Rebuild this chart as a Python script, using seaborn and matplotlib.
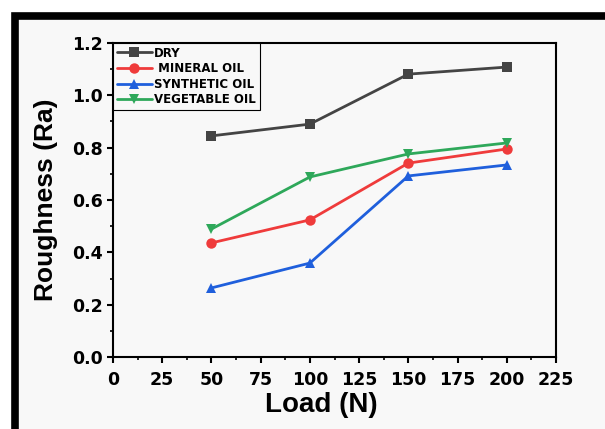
import numpy as np
import pandas as pd
import seaborn as sns
import matplotlib
matplotlib.use("Agg")
import matplotlib.pyplot as plt
from matplotlib.patches import Rectangle
from matplotlib.ticker import MultipleLocator

loads = [50, 100, 150, 200]
dry = [0.845, 0.890, 1.081, 1.108]
mineral = [0.436, 0.524, 0.741, 0.795]
synthetic = [0.264, 0.359, 0.692, 0.734]
vegetable = [0.489, 0.688, 0.776, 0.818]
series_names = ["DRY", " MINERAL OIL", "SYNTHETIC OIL", "VEGETABLE OIL"]
x_ticks = [0, 25, 50, 75, 100, 125, 150, 175, 200, 225]
y_ticks = [0.0, 0.2, 0.4, 0.6, 0.8, 1.0, 1.2]

df = pd.DataFrame({
    "Load": loads * 4,
    "Ra": dry + mineral + synthetic + vegetable,
    "Series": sum([[n] * len(loads) for n in series_names], []),
})

sns.set_theme(style="ticks")
plt.rcParams["font.family"] = ["Liberation Sans", "DejaVu Sans"]
plt.rcParams["font.weight"] = "bold"
for k in ["text.color", "axes.labelcolor", "xtick.color", "ytick.color",
          "xtick.labelcolor", "ytick.labelcolor", "axes.edgecolor"]:
    plt.rcParams[k] = "black"

fig = plt.figure(figsize=(6.05, 4.29), dpi=100)
fig.patch.set_facecolor("white")

# background axes holding the thick black frame (top/left visible)
bg = fig.add_axes([0, 0, 1, 1], zorder=-5)
bg.set_axis_off()
bg.set_xlim(0, 1)
bg.set_ylim(0, 1)
bg.add_patch(Rectangle((15 / 605, -0.1), 1.2, 1 - 16 / 429 + 0.1,
                       facecolor="#f8f8f8", edgecolor="black", linewidth=5.5))

ax = fig.add_axes([113 / 605, 1 - 357 / 429, (556 - 113) / 605, (357 - 43) / 429])
ax.set_facecolor("#f8f8f8")

palette = {"DRY": "#444444", " MINERAL OIL": "#ef3b3b",
           "SYNTHETIC OIL": "#1f5fdc", "VEGETABLE OIL": "#2ea85a"}
markers = {"DRY": "s", " MINERAL OIL": "o", "SYNTHETIC OIL": "^", "VEGETABLE OIL": "v"}

sns.lineplot(data=df, x="Load", y="Ra", hue="Series", style="Series",
             palette=palette, markers=markers, dashes=False,
             linewidth=2, markersize=7.5, markeredgewidth=0, ax=ax)

ax.set_xlim(0, 225)
ax.set_ylim(0, 1.2)
ax.set_xticks(x_ticks)
ax.set_yticks(y_ticks)
ax.set_yticklabels([f"{v:.1f}" for v in y_ticks])
ax.xaxis.set_minor_locator(MultipleLocator(12.5))
ax.yaxis.set_minor_locator(MultipleLocator(0.1))
ax.tick_params(axis="both", which="major", direction="out", length=4.5, width=1.5,
               labelsize=12.5, top=False, right=False, color="black",
               labelcolor="black")
ax.tick_params(axis="x", which="major", pad=5.5)
ax.tick_params(axis="y", which="major", pad=3)
ax.tick_params(axis="both", which="minor", direction="out", length=2.5, width=1.2,
               top=False, right=False, color="black")
for lab in ax.get_xticklabels() + ax.get_yticklabels():
    lab.set_fontweight("bold")
    lab.set_fontfamily("DejaVu Sans")
for s in ax.spines.values():
    s.set_visible(True)
    s.set_linewidth(1.5)
    s.set_color("black")

ax.set_xlabel("Load (N)", fontsize=20, fontweight="bold", color="black")
ax.set_ylabel("Roughness (Ra)", fontsize=19, fontweight="bold", color="black")
ax.xaxis.set_label_coords(0.47, -0.113)
ax.yaxis.set_label_coords(-0.124, 0.5)

leg = ax.legend(loc="upper left", bbox_to_anchor=(0, 1), frameon=True,
                fancybox=False, handlelength=3.0, handletextpad=0.2,
                borderpad=0.3, labelspacing=0.22, borderaxespad=0,
                prop={"family": "DejaVu Sans", "weight": "bold", "size": 8.5})
leg.get_frame().set_edgecolor("black")
leg.get_frame().set_linewidth(0.8)
leg.get_frame().set_facecolor("#f8f8f8")
leg.get_frame().set_alpha(1)
for t in leg.get_texts():
    t.set_color("black")

fig.savefig("out.png", dpi=100)
